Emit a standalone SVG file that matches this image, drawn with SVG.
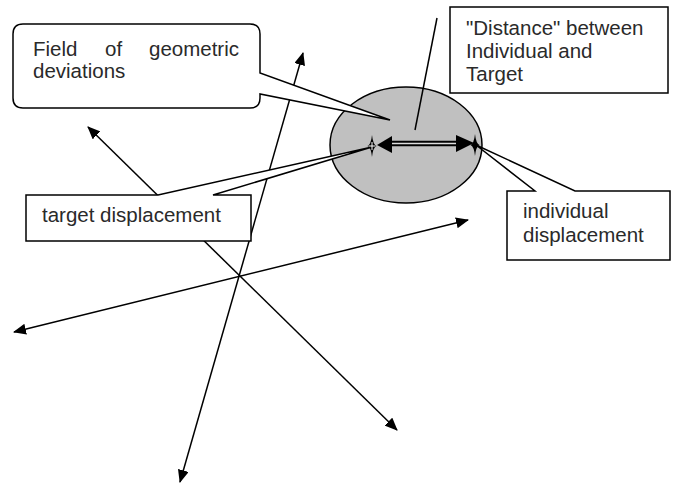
<svg xmlns="http://www.w3.org/2000/svg" width="677" height="485" viewBox="0 0 677 485">
<style>
.box{fill:#fff;stroke:#000;stroke-width:1.5}
.ln{fill:none;stroke:#000;stroke-width:1.5}
.t{font-family:"Liberation Sans",Arial,sans-serif;font-size:20.5px;fill:#2a2a2a}
</style>
<defs>
<marker id="ah" viewBox="0 0 13 11" refX="12" refY="5.5" markerWidth="13" markerHeight="11" markerUnits="userSpaceOnUse" orient="auto-start-reverse">
<path d="M0,0 L13,5.5 L0,11 Z" fill="#000"/>
</marker>
<path id="star" d="M0,-11 Q1,-1.5 4.5,0 Q1,1.5 0,11 Q-1,1.5 -4.5,0 Q-1,-1.5 0,-11 Z"/>
</defs>
<rect width="677" height="485" fill="#fff"/>
<g id="connectors">
<line class="ln" x1="303" y1="53" x2="180" y2="482" marker-start="url(#ah)" marker-end="url(#ah)"/>
<line class="ln" x1="88" y1="127" x2="397" y2="430" marker-start="url(#ah)" marker-end="url(#ah)"/>
<line class="ln" x1="14" y1="332" x2="468" y2="220" marker-start="url(#ah)" marker-end="url(#ah)"/>
</g>
<g id="field">
<ellipse cx="406" cy="145" rx="76" ry="58" fill="#c0c0c0" stroke="#000" stroke-width="1.5"/>
</g>
<g id="callout-field">
<path class="box" d="M23,24 H250 Q260,24 260,34 V73 L390,120 L260,94 V98 Q260,108 250,108 H23 Q13,108 13,98 V34 Q13,24 23,24 Z"/>
<text class="t" x="33" y="56">Field</text>
<text class="t" x="105" y="56">of</text>
<text class="t" x="239" y="56" text-anchor="end">geometric</text>
<text class="t" x="33" y="78">deviations</text>
</g>
<g id="callout-distance">
<line class="ln" x1="437" y1="18" x2="415" y2="130"/>
<rect class="box" x="450" y="7" width="218" height="86"/>
<text class="t" x="466" y="35">"Distance" between</text>
<text class="t" x="466" y="58">Individual and</text>
<text class="t" x="466" y="81">Target</text>
</g>
<g id="callout-target">
<path class="box" d="M26,195 H158 L372,147 L213,195 H251 V241 H26 Z"/>
<text class="t" x="42" y="222">target displacement</text>
</g>
<g id="callout-individual">
<path class="box" d="M507,191 H535 L476,145 L575,191 H670 V260 H507 Z"/>
<text class="t" x="523" y="218">individual</text>
<text class="t" x="523" y="242">displacement</text>
</g>
<g id="distance-arrow">
<line x1="388" y1="143.5" x2="460" y2="143.5" stroke="#000" stroke-width="5.5"/>
<line x1="388" y1="143.5" x2="460" y2="143.5" stroke="#ddd" stroke-width="1.5"/>
<path d="M377,145 L392,136 L392,153 Z" fill="#000"/>
<path d="M474,143 L456,135 L456,152 Z" fill="#000"/>
</g>
<g id="target-star">
<use href="#star" x="372" y="146" fill="#000"/>
<path d="M372,142 L372,150 M368.5,146 L375.5,146" stroke="#fff" stroke-width="1"/>
</g>
<g id="individual-star">
<use href="#star" x="475" y="145" fill="#000"/>
</g>
</svg>
